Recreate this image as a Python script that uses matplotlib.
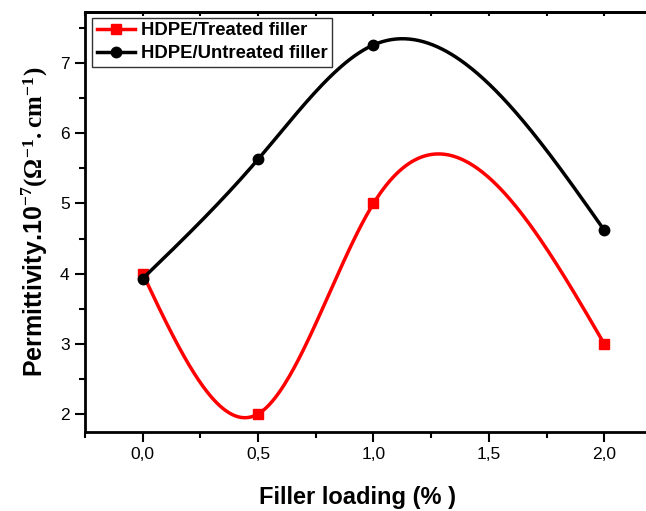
import numpy as np
import matplotlib
matplotlib.use("Agg")
import matplotlib.pyplot as plt
from matplotlib.ticker import MultipleLocator, FuncFormatter, NullFormatter

plt.rcParams['font.family'] = ['Liberation Sans', 'DejaVu Sans']
plt.rcParams['mathtext.fontset'] = 'custom'
plt.rcParams['mathtext.rm'] = 'Liberation Serif'
plt.rcParams['mathtext.bf'] = 'Liberation Serif:bold'

# data
loading = [0.0, 0.5, 1.0, 2.0]
treated = [4.0, 2.0, 5.0, 3.0]
untreated = [3.93, 5.63, 7.26, 4.62]


def natural_spline(x, y, n=300):
    # natural cubic spline through the points (smooth connecting line)
    x = np.asarray(x, float)
    y = np.asarray(y, float)
    k = len(x)
    h = np.diff(x)
    A = np.zeros((k, k))
    b = np.zeros(k)
    A[0, 0] = 1
    A[-1, -1] = 1
    for i in range(1, k - 1):
        A[i, i - 1] = h[i - 1]
        A[i, i] = 2 * (h[i - 1] + h[i])
        A[i, i + 1] = h[i]
        b[i] = 6 * ((y[i + 1] - y[i]) / h[i] - (y[i] - y[i - 1]) / h[i - 1])
    M = np.linalg.solve(A, b)
    xs = np.linspace(x[0], x[-1], n)
    ys = np.empty_like(xs)
    for j, t in enumerate(xs):
        i = min(np.searchsorted(x, t, side='right') - 1, k - 2)
        dx1 = x[i + 1] - t
        dx0 = t - x[i]
        ys[j] = (M[i] * dx1 ** 3 / (6 * h[i]) + M[i + 1] * dx0 ** 3 / (6 * h[i])
                 + (y[i] / h[i] - M[i] * h[i] / 6) * dx1
                 + (y[i + 1] / h[i] - M[i + 1] * h[i] / 6) * dx0)
    return xs, ys


fig = plt.figure(figsize=(6.46, 5.11), dpi=100)
ax = fig.add_axes([0.1316, 0.1546, 0.893, 0.822])

xs, ys = natural_spline(loading, treated)
ax.plot(xs, ys, color='red', lw=2.5)
ax.plot(loading, treated, 's', color='red', ms=7.5)
ax.plot([], [], '-s', color='red', lw=2.5, ms=7.5, label='HDPE/Treated filler')

xs, ys = natural_spline(loading, untreated)
ax.plot(xs, ys, color='black', lw=2.5)
ax.plot(loading, untreated, 'o', color='black', ms=7.5)
ax.plot([], [], '-o', color='black', lw=2.5, ms=7.5, label='HDPE/Untreated filler')

ax.set_xlim(-0.25, 2.25)
ax.set_ylim(1.743, 7.73)

ax.xaxis.set_major_locator(MultipleLocator(0.5))
ax.xaxis.set_minor_locator(MultipleLocator(0.25))
ax.yaxis.set_major_locator(MultipleLocator(1))
ax.yaxis.set_minor_locator(MultipleLocator(0.5))
ax.xaxis.set_major_formatter(FuncFormatter(lambda v, p: f'{v:.1f}'.replace('.', ',')))
ax.yaxis.set_major_formatter(FuncFormatter(lambda v, p: f'{v:.0f}'))

ax.tick_params(axis='both', which='major', direction='out', length=7, width=1.5,
               labelsize=12.5, pad=4)
ax.tick_params(axis='both', which='minor', direction='out', length=4, width=1.5)
for s in ax.spines.values():
    s.set_linewidth(2)
ax.spines['right'].set_visible(False)

# top axis: short inward ticks, no labels
top = ax.secondary_xaxis('top')
top.xaxis.set_major_locator(MultipleLocator(0.5))
top.xaxis.set_minor_locator(MultipleLocator(0.25))
top.xaxis.set_major_formatter(NullFormatter())
top.tick_params(which='both', direction='in', length=3, width=1.5)
top.spines['top'].set_linewidth(2)

ax.set_xlabel('Filler loading (% )', fontsize=17, fontweight='bold')
ax.xaxis.set_label_coords((358 - 85) / 577, -0.128)
ax.set_ylabel(r'Permittivity.10$^{\mathbf{-7}}$$\mathbf{(\Omega^{-1}.cm^{-1})}$',
              fontsize=18, fontweight='bold')
ax.yaxis.set_label_coords(-0.06, 0.5)

leg = ax.legend(loc='upper left', bbox_to_anchor=(0.012, 0.986), borderaxespad=0,
                prop={'weight': 'bold', 'size': 13.3}, handlelength=2.1,
                handletextpad=0.3, borderpad=0.25, labelspacing=0.3,
                fancybox=False, frameon=True)
leg.get_frame().set_edgecolor('black')
leg.get_frame().set_linewidth(1.0)

fig.savefig('out.png', dpi=100)
